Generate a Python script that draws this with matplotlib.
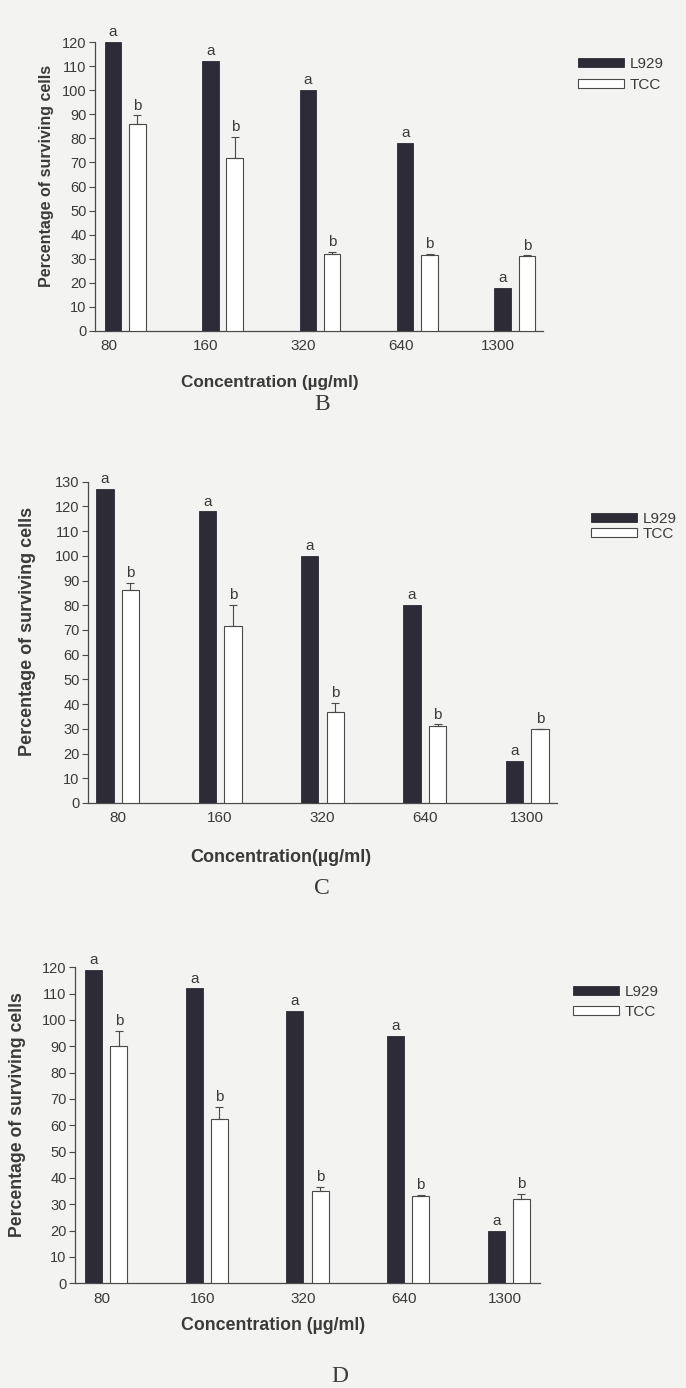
import matplotlib
matplotlib.use("Agg")
import matplotlib.pyplot as plt
import numpy as np

plt.rcParams['font.family'] = ['Liberation Sans', 'DejaVu Sans']

# ---------------- data ----------------
concentrations = ['80', '160', '320', '640', '1300']
series_names = ['L929', 'TCC']
letters = ['a', 'b']

B_l929 = [120, 112, 100, 78, 18]
B_tcc = [86, 72, 32, 31.5, 31]
B_tcc_err = [3.5, 8.5, 1.0, 0.4, 0.4]

C_l929 = [127, 118, 100, 80, 17]
C_tcc = [86, 71.5, 37, 31, 30]
C_tcc_err = [3.0, 8.5, 3.5, 0.8, 0.0]

D_l929 = [119, 112, 103.5, 94, 20]
D_tcc = [90, 62.5, 35, 33, 32]
D_tcc_err = [6.0, 4.5, 1.5, 0.5, 2.0]

panel_titles = ['B', 'C', 'D']
ylabel = 'Percentage of surviving cells'
xlabels = ['Concentration (\u00b5g/ml)', 'Concentration(\u00b5g/ml)', 'Concentration (\u00b5g/ml)']

# ---------------- style ----------------
W, H = 686, 1388
BG = '#f3f3f1'
DARK = '#2c2b36'
EDGE = '#4a4a4a'
TXT = '#3a3a3a'

fig = plt.figure(figsize=(W / 100, H / 100), dpi=100, facecolor=BG)

def px_axes(left, right, y0, ytop):
    return fig.add_axes([left / W, (H - y0) / H, (right - left) / W, (y0 - ytop) / H])

panels = [
    dict(l929=B_l929, tcc=B_tcc, err=B_tcc_err, ymax=120, box=(95, 543, 331, 42),
         xlim=(-0.31, 4.29), tick_off=-0.17, title_xy=(322, 405), ylab_xy=(47, 176),
         xlab_xy=(270, 382), leg_xy=(578, 57), leg_sp=0.45, ylab_fs=11.5, xlab_fs=12.3),
    dict(l929=C_l929, tcc=C_tcc, err=C_tcc_err, ymax=130, box=(88, 557, 803, 481.7),
         xlim=(-0.29, 4.29), tick_off=0.0, title_xy=(322, 888), ylab_xy=(27, 631),
         xlab_xy=(281, 858), leg_xy=(591, 512), leg_sp=0.05, ylab_fs=13, xlab_fs=13),
    dict(l929=D_l929, tcc=D_tcc, err=D_tcc_err, ymax=120, box=(75, 540, 1283.3, 967.3),
         xlim=(-0.31, 4.31), tick_off=-0.04, title_xy=(340, 1377), ylab_xy=(18, 1115),
         xlab_xy=(273, 1325), leg_xy=(573, 985), leg_sp=0.4, ylab_fs=12.7, xlab_fs=12.8),
]

width = 0.17
off = 0.125
x = np.arange(len(concentrations))

for i, p in enumerate(panels):
    ax = px_axes(*p['box'])
    ax.set_facecolor(BG)
    b1 = ax.bar(x - off, p['l929'], width, color=DARK, edgecolor=DARK, linewidth=0.6,
                label=series_names[0], zorder=3)
    err = np.vstack([np.zeros(len(x)), p['err']])
    b2 = ax.bar(x + off, p['tcc'], width, color='white', edgecolor=EDGE, linewidth=0.8,
                label=series_names[1], zorder=3,
                yerr=err, error_kw=dict(ecolor=EDGE, elinewidth=0.8, capsize=3, capthick=0.8))
    for xi, v in zip(x - off, p['l929']):
        ax.annotate(letters[0], (xi, v), xytext=(0, 2), textcoords='offset points',
                    ha='center', va='bottom', fontsize=11, color=TXT, annotation_clip=False)
    for xi, v, e in zip(x + off, p['tcc'], p['err']):
        ax.annotate(letters[1], (xi, v + e), xytext=(0, 2), textcoords='offset points',
                    ha='center', va='bottom', fontsize=11, color=TXT, annotation_clip=False)

    ax.set_xlim(*p['xlim'])
    ax.set_ylim(0, p['ymax'])
    ax.set_yticks(np.arange(0, p['ymax'] + 1, 10))
    ax.set_xticks(x + p['tick_off'])
    ax.set_xticklabels(concentrations)
    ax.tick_params(axis='x', length=0, pad=6, labelsize=11, labelcolor=TXT)
    ax.tick_params(axis='y', length=4, width=0.8, color=EDGE, pad=2, labelsize=10.5, labelcolor=TXT)
    for s in ['top', 'right']:
        ax.spines[s].set_visible(False)
    for s in ['left', 'bottom']:
        ax.spines[s].set_color(EDGE)
        ax.spines[s].set_linewidth(0.9)

    fig.text(p['ylab_xy'][0] / W, 1 - p['ylab_xy'][1] / H, ylabel, rotation=90,
             ha='center', va='center', fontsize=p['ylab_fs'], fontweight='bold', color=TXT)
    fig.text(p['xlab_xy'][0] / W, 1 - p['xlab_xy'][1] / H, xlabels[i],
             ha='center', va='center', fontsize=p['xlab_fs'], fontweight='bold', color=TXT)
    fig.text(p['title_xy'][0] / W, 1 - p['title_xy'][1] / H, panel_titles[i],
             ha='center', va='center', fontsize=17, family='Liberation Serif', color=TXT)

    leg = fig.legend(handles=[b1, b2], labels=series_names, loc='upper left',
                     bbox_to_anchor=(p['leg_xy'][0] / W, 1 - p['leg_xy'][1] / H),
                     frameon=False, handlelength=3.0, handleheight=0.55, handletextpad=0.4,
                     labelspacing=p['leg_sp'], borderpad=0, borderaxespad=0, fontsize=11)
    for t in leg.get_texts():
        t.set_color(TXT)

fig.savefig('out.png', dpi=100, facecolor=BG)
